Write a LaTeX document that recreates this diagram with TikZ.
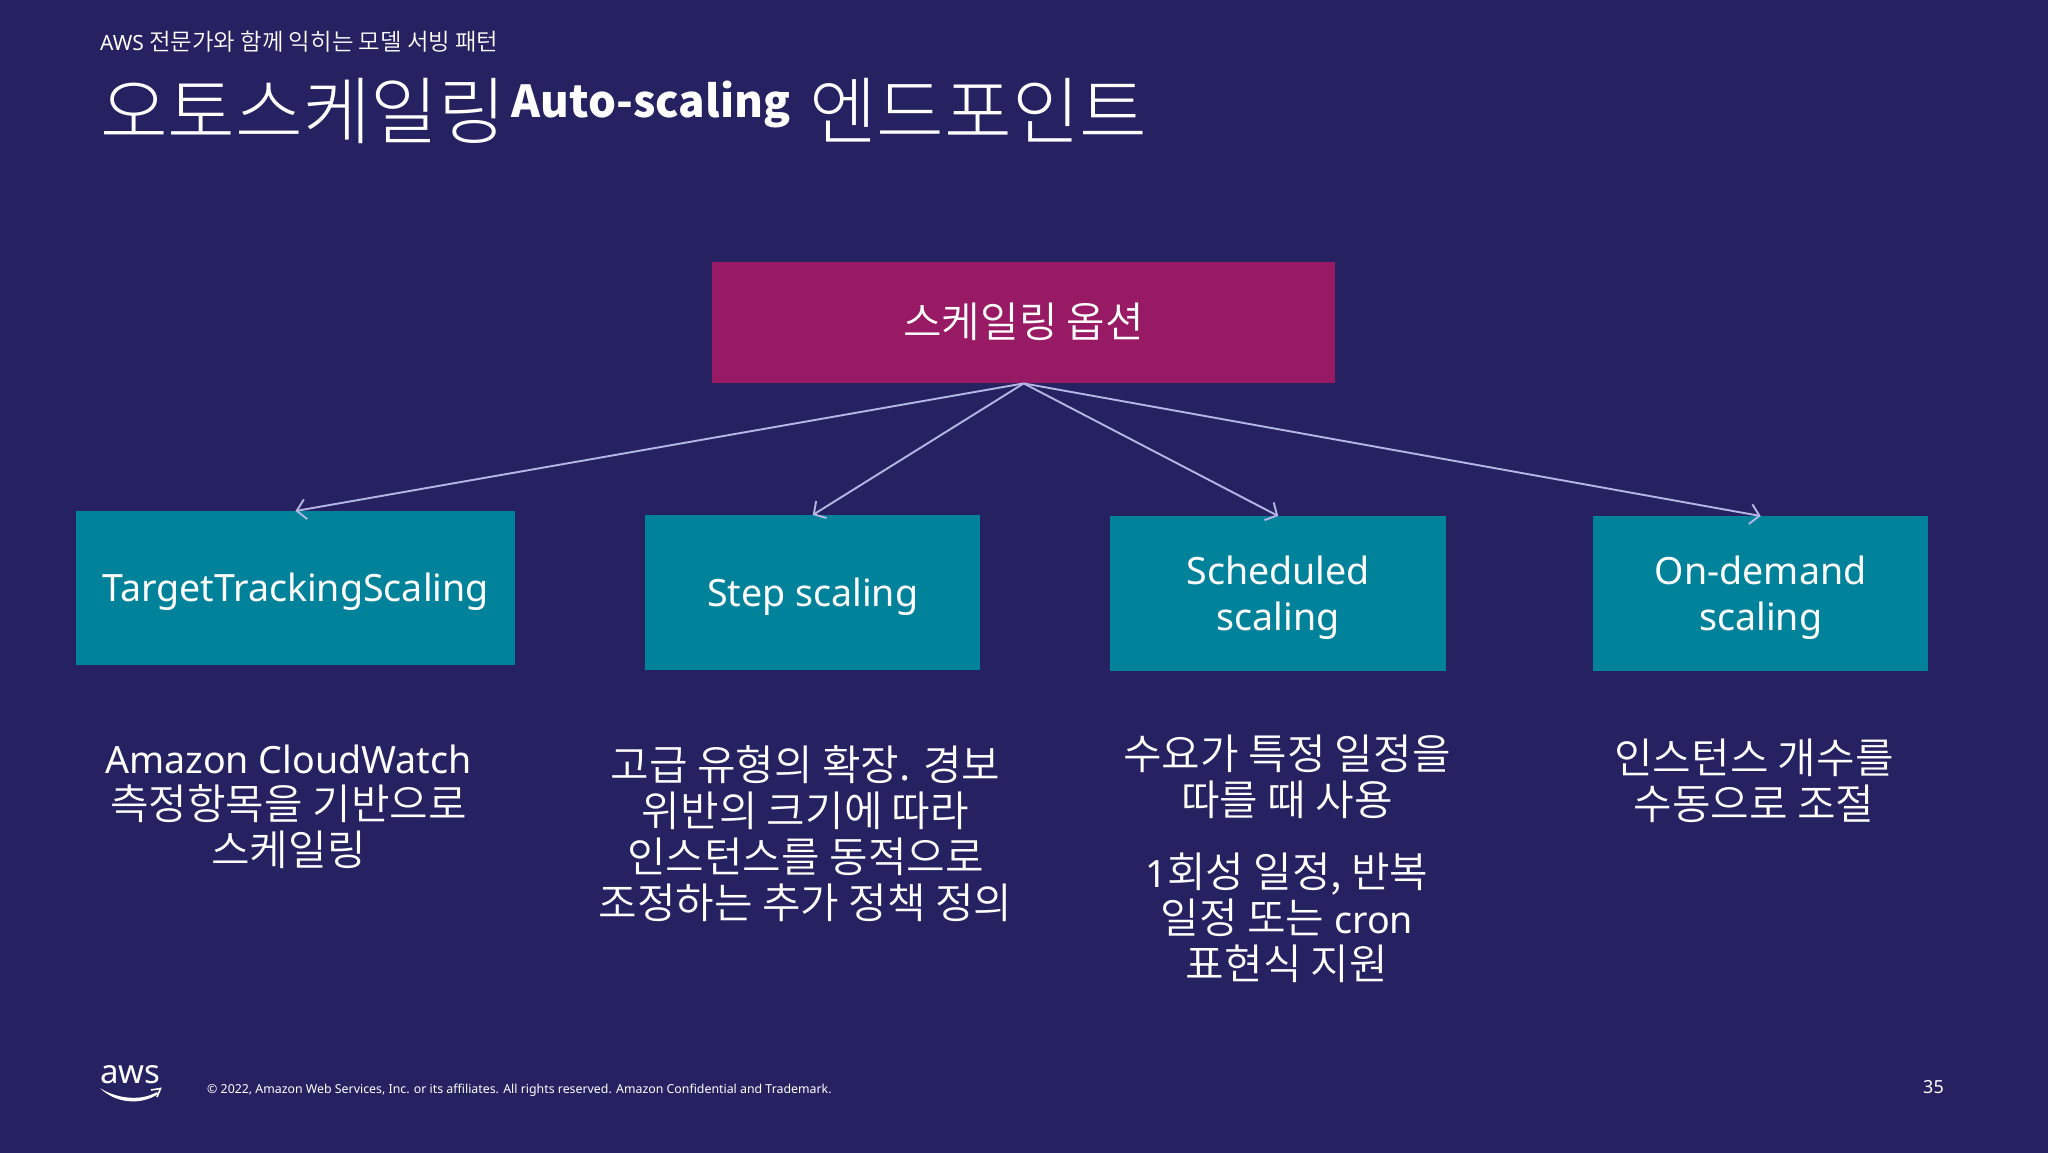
\documentclass[tikz,border=0pt]{standalone}
\usepackage{fontspec}
\usetikzlibrary{arrows.meta}
\setmainfont{Noto Sans}
\newfontfamily\kr[Scale=1.115]{Noto Sans CJK KR DemiLight}
\newfontfamily\krl{Noto Sans CJK KR Light}
\newfontfamily\krb{Noto Sans CJK KR Black}
\newcommand{\K}[1]{{\kr #1}}
\newcommand{\Dn}{\rule{0pt}{36pt}}
\definecolor{bg}{HTML}{262262}
\definecolor{magentabox}{HTML}{991A64}
\definecolor{tealbox}{HTML}{00829B}
\definecolor{arrowc}{HTML}{B4B6E4}
\tikzset{
  box/.style={draw=none,fill=#1,text=white,font=\fontsize{37.6}{46}\selectfont,align=center,inner sep=0pt,anchor=north west},
  desc/.style={text=white,font=\fontsize{37.6}{46}\selectfont,align=center,inner sep=0pt,anchor=north},
  link/.style={draw=arrowc,line width=1.9pt,-{Straight Barb[length=9pt,width=20pt,line width=1.9pt]}},
  plain/.style={text=white,inner sep=0pt}
}
\begin{document}
\begin{tikzpicture}[x=1pt,y=-1pt]
\useasboundingbox (0,0) rectangle (2048,1152);
\fill[bg] (-3,-3) rectangle (2051,1155);
\node[plain,anchor=base west,font=\fontsize{21}{24}\selectfont] (sub) at (100,50) {AWS \K{전문가와 함께 익히는 모델 서빙 패턴}};
\node[plain,anchor=base west,font=\fontsize{73.5}{80}\selectfont] (title) at (100,138) {{\krl 오토스케일링}\hspace{6pt}\raisebox{21pt}{\krb\fontsize{44}{50}\selectfont Auto-scaling} {\krl 엔드포인트}};
\node[box=magentabox,minimum width=623pt,minimum height=121pt] (top) at (712,262) {\K{스케일링 옵션}\rule[-6pt]{0pt}{6pt}};
\node[box=tealbox,minimum width=438.5pt,minimum height=154pt] (b1) at (76,511) {\Dn TargetTrackingScaling};
\node[box=tealbox,minimum width=335pt,minimum height=155pt] (b2) at (645,515) {\Dn Step scaling};
\node[box=tealbox,minimum width=336pt,minimum height=155pt] (b3) at (1110,516) {\Dn Scheduled\\scaling};
\node[box=tealbox,minimum width=335pt,minimum height=155pt] (b4) at (1593,516) {\Dn On-demand\\scaling};
\foreach \n in {b1,b2,b3,b4} \draw[link] (top.south) -- (\n.north);
\node[desc] (d1) at (288.5,744.5) {Amazon CloudWatch\\\K{측정항목을 기반으로}\\\K{스케일링}};
\node[desc] (d2) at (805.5,745.5) {\K{고급 유형의 확장. 경보}\\\K{위반의 크기에 따라}\\\K{인스턴스를 동적으로}\\\K{조정하는 추가 정책 정의}};
\node[desc] (d3) at (1287,734.5) {\K{수요가 특정 일정을}\\\K{따를 때 사용}};
\node[desc] (d4) at (1287,853) {1\K{회성 일정, 반복}\\\K{일정 또는} cron\\\K{표현식 지원}};
\node[desc] (d5) at (1754,739) {\K{인스턴스 개수를}\\\K{수동으로 조절}};
\node[plain,anchor=base west,font=\fontsize{12.35}{15}\selectfont] (copy) at (207,1093) {© 2022, Amazon Web Services, Inc. or its affiliates. All rights reserved. Amazon Confidential and Trademark.};
\node[plain,anchor=base,font=\fontsize{18}{20}\selectfont] (page) at (1933.5,1093) {35};
\node[plain,anchor=base,font=\fontsize{33}{40}\selectfont] (aws) at (130.5,1083) {aws};
\fill[white] (100,1088) .. controls (115,1098) and (140,1102) .. (157,1092) -- (158,1094) .. controls (140,1106) and (115,1103) .. (100,1088) -- cycle;
\draw[white,line width=1.6pt] (151,1090) -- (160.5,1088.5) -- (157,1097);
\end{tikzpicture}
\end{document}
